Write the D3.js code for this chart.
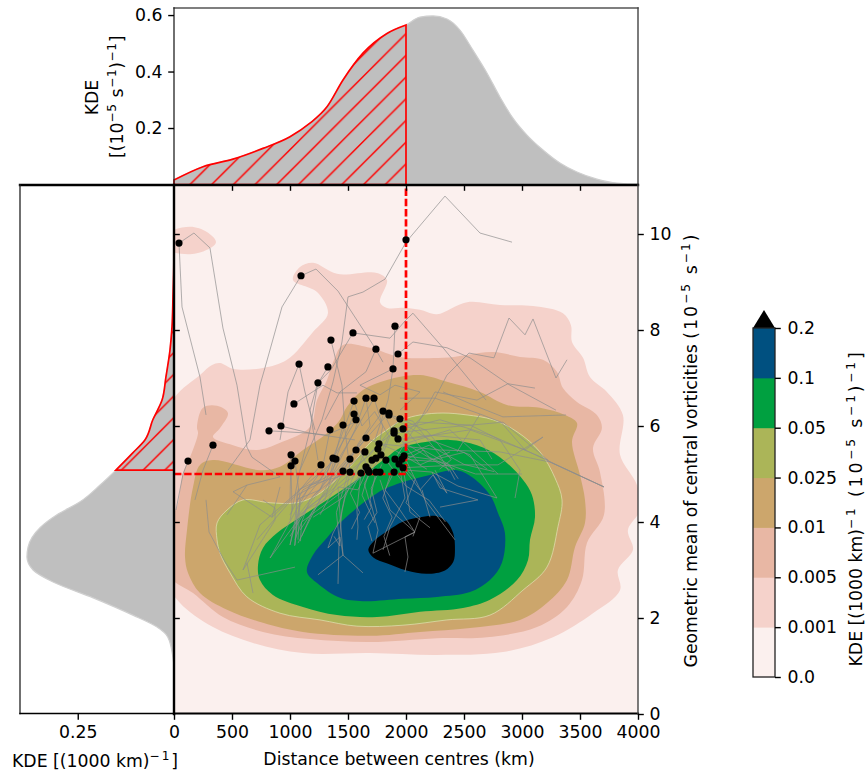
<!DOCTYPE html>
<html><head><meta charset="utf-8">
<style>html,body{margin:0;padding:0;background:#fff}svg{display:block}text{font-family:"DejaVu Sans";fill:#000}</style>
<script src="https://cdn.jsdelivr.net/npm/d3@7"></script></head><body>
<svg id="c" width="866" height="772"></svg>
<script>
// ---------- values ----------
const xTicks=[0,500,1000,1500,2000,2500,3000,3500,4000];
const yTicks=[0,2,4,6,8,10];
const topTicks=[0.2,0.4,0.6];
const leftTicks=[0,0.25];
const cbLabels=["0.0","0.001","0.005","0.01","0.025","0.05","0.1","0.2"];
const bandColours=["#fbf0ee","#f5d2cb","#e8b7a4","#cca66c","#abb558","#00a040","#005080","#000000"];
const refX=[0,2000,2000], refY=[5,5,11];
const topKm=[0,250,509,767,1000,1172,1319,1457,1629,1836,2000,2121,2233,2353,2465,2577,2698,2810,2922,3043,3181,3327,3474,3646,3819,3991,4000];
const topDen=[.016,.063,.09,.128,.169,.217,.275,.37,.465,.535,.565,.593,.597,.586,.547,.476,.395,.31,.235,.175,.122,.076,.044,.019,.005,.002,.002];
const leftVort=[1.0,1.19,1.6,1.81,2.06,2.42,2.75,3.0,3.27,3.48,3.88,4.15,4.42,4.77,5.08,5.44,5.71,6.13,6.54,7.02,7.58,8.06,8.69,9.4,9.88,11];
const leftDen=[0,.003,.016,.044,.107,.21,.314,.366,.382,.379,.348,.304,.244,.192,.151,.107,.0755,.055,.031,.021,.0104,.0052,.0026,.0005,.0003,0];
const contourIsland=[[-40,10.02],[138,10.15],[284,10.04],[362,9.83],[284,9.67],[138,9.58],[-40,9.67]];
const contour001=[[-40,6.4],[224,7.06],[328,7.27],[397,7.31],[509,7.19],[767,7.21],[974,7.38],[1198,7.96],[1327,8.35],[1233,8.79],[1026,9.04],[1086,9.31],[1198,9.4],[1405,9.17],[1750,9.19],[1836,9.04],[1776,8.58],[1836,8.46],[2000,8.46],[2121,8.42],[2267,8.33],[2526,8.58],[2810,8.52],[3095,8.5],[3353,8.35],[3422,8.1],[3431,7.75],[3526,7.42],[3586,7.02],[3732,6.71],[3870,6.23],[3845,5.4],[3991,4.77],[4017,4.25],[3913,3.83],[3957,3.42],[3827,3.0],[3845,2.58],[3612,2.1],[3267,1.6],[2836,1.29],[2267,1.23],[1690,1.27],[1112,1.27],[681,1.48],[336,1.81],[52,2.31],[-40,2.7]];
const contour005=[[-40,4.04],[26,4.31],[78,5.02],[138,5.35],[207,5.85],[198,5.98],[250,6.38],[371,6.42],[465,6.27],[397,5.96],[336,5.77],[509,5.6],[715,5.5],[914,5.65],[1172,5.98],[1233,6.54],[1319,6.96],[1371,7.33],[1457,7.69],[1690,7.63],[1948,7.44],[2319,7.42],[2526,7.48],[2750,7.54],[2983,7.44],[3181,7.38],[3301,7.13],[3353,6.79],[3474,6.5],[3646,6.23],[3689,5.96],[3612,5.54],[3672,5.04],[3707,4.15],[3560,3.56],[3517,2.79],[3388,2.23],[3129,1.81],[2698,1.6],[2267,1.58],[1690,1.5],[1172,1.56],[767,1.71],[422,2.02],[164,2.52],[-40,2.88]];
const contour01=[[336,5.29],[224,5.19],[164,4.73],[112,3.83],[95,3.27],[121,2.94],[224,2.52],[457,2.17],[767,1.9],[1112,1.71],[1690,1.63],[2121,1.71],[2552,1.79],[2983,1.96],[3215,2.31],[3388,2.79],[3457,3.48],[3543,3.98],[3543,4.46],[3500,4.98],[3431,5.67],[3474,6.06],[3370,6.23],[3155,6.38],[2870,6.44],[2638,6.71],[2353,6.92],[2121,7.06],[1836,6.96],[1629,6.75],[1491,6.4],[1431,6.13],[1319,5.85],[1112,5.5],[914,5.15],[741,5.08]];
const contour025=[[2121,6.23],[1974,6.13],[1836,5.92],[1690,5.65],[1517,5.15],[1345,4.77],[1233,4.56],[1060,4.4],[828,4.4],[595,4.46],[457,4.25],[371,3.98],[371,3.63],[397,3.35],[483,2.94],[629,2.44],[914,2.1],[1259,1.96],[1577,1.83],[1974,1.85],[2353,1.96],[2724,2.06],[3008,2.58],[3215,3.06],[3310,3.9],[3345,4.46],[3284,4.92],[3155,5.46],[2957,5.88],[2750,6.13],[2526,6.23],[2319,6.27]];
const contour05=[[724,3.1],[741,2.79],[853,2.48],[1112,2.23],[1405,2.06],[1750,2.02],[2121,2.13],[2491,2.21],[2724,2.38],[2957,2.79],[3052,3.21],[3069,3.63],[3112,4.1],[3086,4.56],[3008,4.88],[2810,5.35],[2612,5.6],[2379,5.71],[2181,5.67],[1948,5.54],[1836,5.35],[1577,4.88],[1345,4.5],[1086,4.1],[888,3.77],[767,3.46]];
const contour1=[[1146,2.96],[1233,2.73],[1431,2.42],[1629,2.35],[1974,2.4],[2267,2.44],[2552,2.54],[2724,2.79],[2827,3.15],[2853,3.77],[2793,4.19],[2724,4.56],[2577,4.92],[2440,5.08],[2207,4.98],[1948,4.81],[1750,4.6],[1457,4.04],[1319,3.67],[1198,3.31]];
const contour2=[[1675,3.42],[1718,3.59],[1833,3.8],[1977,4.01],[2149,4.11],[2264,4.12],[2350,4.01],[2408,3.76],[2422,3.42],[2408,3.17],[2336,2.99],[2178,2.92],[2005,2.99],[1833,3.14],[1718,3.26]];
const dotKm=[43,2000,1095,1905,1543,1353,1741,1931,1888,1327,1078,1241,1034,819,922,336,121,1009,1043,1009,1267,1345,1457,1552,1655,1724,1552,1569,1802,1853,1853,1948,1974,1897,1897,1931,1655,1767,1758,1569,1646,1784,1741,1707,1827,1371,1396,1517,1905,1983,1965,1940,1974,1655,1672,1457,1517,1612,1681,1741,1776,1897];
const dotVort=[9.81,9.88,9.13,8.08,7.94,7.79,7.6,7.5,7.19,7.23,7.29,6.9,6.46,5.9,6,5.6,5.27,5.4,5.27,5.17,5.19,5.92,6.02,6.52,6.58,6.58,6.25,6.13,6.31,6.27,6.23,6.15,5.94,5.9,5.85,5.73,5.75,5.63,5.52,5.5,5.46,5.4,5.33,5.29,5.29,5.33,5.31,5.31,5.31,5.38,5.31,5.21,5.13,5.15,5.08,5.06,5.04,5.02,5.04,5.04,5.04,5.04];
const tracks=[
[[276,6.23],[224,7.02],[69,8.48],[43,9.81],[172,10.02],[310,9.71],[422,8.04],[543,6.85],[629,5.56],[672,5.35],[914,4.94],[629,4.77],[509,4.63],[845,4.1],[914,4.73]],
[[629,4.77],[457,4.15]],
[[2914,9.83],[2638,10.02],[2336,10.79],[2000,9.83],[1819,9.06],[1629,8.79],[1500,8.69],[1448,7.75],[1371,6.92],[1276,6.13],[1086,5.08],[1000,4.04]],
[[1802,7.33],[1716,7.69],[1414,8.81],[1224,9.27],[1095,9.13],[931,8.48],[784,7.21],[741,6.85],[655,5.71],[466,5.08]],
[[1948,5.71],[2180,6.3],[2250,6.58],[2353,7.06],[2543,7.52],[2758,7.42],[2888,8.25],[3026,7.9],[3095,8.23],[3293,7],[3388,7.38]],
[[1543,7.94],[1862,7.83],[2000,8.21],[2060,8.35],[2319,7.63],[2690,6.54]],
[[1931,7.5],[2060,7.75],[2353,7.63],[2552,7.42],[2896,6.85],[3293,6.33]],
[[1905,5.31],[2121,6.13],[2250,6.71],[2612,6.54],[2879,6.88],[3112,6.79]],
[[1948,6.58],[2250,6.58],[2638,6.25],[2819,6.08],[3026,5.5],[3181,5.77]],
[[2638,6.25],[2440,5.46]],
[[2319,6.71],[2577,6.44],[2836,6.19],[3379,6.23]],
[[1897,5.85],[2293,5.96],[2836,6.08],[3241,5.25],[3707,4.73]],
[[1879,5.92],[2121,6.08],[2552,6.02],[2810,5.71],[2983,5.08],[2940,4.5]],
[[1905,5.71],[2207,5.81],[2638,5.71],[2741,5.31]],
[[1948,5.6],[2379,5.92],[2793,5]],
[[1974,5.94],[2293,6.13],[2724,5.81],[3224,5.29]],
[[1974,5.71],[2552,5.92],[3026,5.5],[3707,4.73]],
[[1767,5.63],[2293,5.5],[2810,5.46],[3241,5.25],[3707,4.73]],
[[1853,6.23],[2207,5.71],[2552,5.4],[2784,4.5]],
[[1931,5.73],[2379,5.08],[2422,4.88]],
[[1897,5.9],[2121,5.19],[2379,5.46]],
[[1974,5.13],[2465,5.19],[2793,5.19],[3181,5.77]],
[[2008,5.08],[2224,5.04],[2293,4.71],[2620,4.46],[2293,4.31]],
[[2250,5.08],[2353,4.6]],
[[2224,5.04],[2448,4.75],[2784,4.5]],
[[1646,5.46],[1534,4.88],[1474,4.5],[1431,4.04],[1371,3.77],[1327,3.46],[1431,3.69],[1457,3.31],[1241,2.9]],
[[1707,5.29],[1586,4.67],[1414,4.73],[1457,3.31],[1629,2.94]],
[[1517,5.04],[1448,4.25],[1422,3.52],[1414,2.71]],
[[1612,5.02],[1577,4.25],[1586,3.9],[1577,3.63]],
[[1681,5.04],[1621,4.56],[1733,3.98]],
[[1741,5.04],[1690,4.46],[1759,3.83],[1715,3.35],[2077,3.79],[1862,4.25],[1776,4.88]],
[[1897,5.04],[1819,4.67],[1948,4.25],[2077,3.79],[1991,3.69],[2017,3.27],[1991,2.96]],
[[1940,5.21],[1991,4.5],[1862,3.9],[1802,3.42]],
[[1974,5.13],[2121,4.67],[2233,4.98],[2353,4.6]],
[[1983,5.38],[2164,4.46],[2422,3.63]],
[[1965,5.31],[2034,4.21],[2207,3.88]],
[[2138,4.67],[2207,4.1]],
[[1552,6.52],[1431,5.71],[1327,5.08],[1086,4.35],[1000,3.52]],
[[1655,6.58],[1560,5.92],[1345,4.88],[1069,3.56]],
[[1724,6.58],[1517,5.71],[1259,4.67],[828,3.25]],
[[1552,6.25],[1388,5.29],[1086,4.67],[715,3.63]],
[[1569,6.13],[1259,4.88],[1069,4.67],[1043,4.04],[1000,3.52]],
[[1802,6.31],[1560,5.5],[1172,4.46],[1043,3.63]],
[[1853,6.27],[1646,5.71],[1388,4.98],[1060,4.56],[1052,3.83]],
[[1948,6.15],[1690,5.4],[1474,4.98],[1172,4.77],[828,3.25]],
[[1345,5.92],[1276,5.08],[1086,4.46],[1069,3.63]],
[[1457,6.02],[1345,4.98],[1112,4.67],[1000,4.15]],
[[1655,5.75],[1431,5.08],[1086,3.83]],
[[1569,5.5],[1345,4.67],[1086,4.15]],
[[1371,5.33],[1259,4.67],[1052,4.46]],
[[1396,5.31],[1302,4.46],[1129,4.25]],
[[1517,5.31],[1259,4.15]],
[[1009,5.4],[1000,4.46],[845,4.1]],
[[1043,5.27],[1086,4.46],[1043,3.52]],
[[1009,5.17],[1017,4.25]],
[[1267,5.19],[1086,4.67],[741,3.94],[595,3]],
[[1043,3.06],[543,2.79],[440,3.17],[302,3.79],[276,4.46]],
[[629,3.15],[681,2.52]],
[[595,3],[871,4.04],[871,4.29],[767,4.46]],
[[1905,8.08],[1888,7.19],[1845,6.54],[1733,5.71]],
[[1543,7.94],[1353,7.17],[1241,6.9],[1172,5.92],[1086,5.08]],
[[1353,7.79],[1448,6.85],[1474,5.92],[1517,5.08]],
[[1327,7.23],[1233,6.85],[1172,6.33],[1241,5.29]],
[[1078,7.29],[983,6.71],[914,5.71]],
[[1078,7.29],[1129,6.71],[1215,5.92]],
[[1888,7.19],[1603,6.85],[1776,6.65],[1905,6.85],[2121,6.71],[1948,6.33]],
[[1741,7.6],[1655,7.13],[1431,6.71],[1302,6.13]],
[[819,5.9],[1172,5.85],[1319,5.81],[1603,6.13]],
[[922,6],[1172,5.85],[1560,5.71]],
[[1034,6.46],[1284,6.85],[1405,6.69],[1577,6.69]],
[[121,5.27],[78,5],[17,4.25]],
[[336,5.6],[250,5.08],[181,4.46]],
[[1791,5.2],[1700,4.7],[1750,4.2],[1672,3.9],[1707,3.6]],
[[1880,5.1],[1800,4.5],[1880,4.1],[1810,3.7],[1860,3.3]],
[[1650,5.2],[1520,4.6],[1600,4.2],[1530,3.85]],
[[1760,5.3],[1640,4.8],[1700,4.3],[1640,4.05]],
[[1920,5.3],[2080,4.9],[2000,4.4],[2120,4.1],[2060,3.7]],
[[1827,5.29],[2000,4.75],[2200,4.45],[2340,4]],
[[1500,5],[1400,4.2],[1430,3.5],[1380,3.7]],
[[1612,5.02],[1450,4.5],[1200,4.1]],
[[1707,5.29],[1520,4.9],[1300,4.5],[1190,4.2],[1100,3.7]],
[[1784,5.4],[1600,4.9],[1350,4.45],[1100,4],[1090,3.6]],
[[1767,5.63],[1560,5.1],[1330,4.6],[1150,4.3],[1000,3.7]],
[[1646,5.46],[1440,5],[1220,4.6],[1060,4.1],[1040,3.5]],
[[1905,5.31],[2200,5.6],[2500,5.2],[2760,5.05]],
[[1983,5.38],[2240,5.3],[2500,5.45],[2700,5.1]],
[[1965,5.31],[2300,5.25],[2600,5],[3000,5]],
[[1940,5.21],[2150,5.5],[2370,5.2],[2450,4.9]],
[[1853,6.23],[2060,6.1],[2290,5.4],[2370,5.05]],
[[1948,6.15],[2180,5.9],[2390,5.3],[2290,5.1]],
[[1767,5.63],[1970,6],[2200,5.35],[2420,5.1]],
[[1655,5.75],[1900,5.5],[2180,5.1]],
[[1552,6.52],[1620,6],[1730,6.3],[1850,5.8],[1780,5.4]],
[[1655,6.58],[1690,6],[1580,5.6],[1660,5.2]],
[[1724,6.58],[1800,6],[1760,5.5],[1860,5.2]],
[[1802,6.31],[1880,5.9],[1780,5.3]]
];
// ---------- scales ----------
const x=d3.scaleLinear().domain([0,4000]).range([174,638]);
const y=d3.scaleLinear().domain([0,11]).range([714,186]);
const yTop=d3.scaleLinear().domain([0,.625]).range([184.5,8]);
const xLeft=d3.scaleLinear().domain([0,.4]).range([174,20]);
const cb=d3.scalePoint().domain(cbLabels).range([677,328]);
const svg=d3.select("#c");
const defs=svg.append("defs");
const FS=17.3;
defs.append("clipPath").attr("id","plot").append("rect").attr("x",174).attr("y",185).attr("width",464).attr("height",529);
const pat=defs.append("pattern").attr("id","hatch").attr("patternUnits","userSpaceOnUse").attr("width",21.7).attr("height",21.7);
pat.append("path").attr("d","M-1 6.7L6.7 -1M4.7 22.7L22.7 4.7").attr("stroke","red").attr("stroke-width",1.5).attr("fill","none");
// ---------- main plot ----------
const plot=svg.append("g").attr("clip-path","url(#plot)");
plot.append("rect").attr("x",x(0)).attr("y",y(11)-1).attr("width",x(4000)-x(0)).attr("height",y(0)-y(11)+1).attr("fill",bandColours[0]);
const closed=d3.line().x(d=>x(d[0])).y(d=>y(d[1])).curve(d3.curveCatmullRomClosed.alpha(.5));
[[contourIsland,1],[contour001,1],[contour005,2],[contour01,3],[contour025,4],[contour05,5],[contour1,6],[contour2,7]].forEach(([c,i])=>{
  const p=plot.append("path").attr("d",closed(c)).attr("fill",bandColours[i]);
  if(i===4)p.attr("stroke","#e2e2b4").attr("stroke-width",.7);
});
const ln=d3.line().x(d=>x(d[0])).y(d=>y(d[1]));
plot.append("g").selectAll("path").data(tracks).join("path").attr("d",ln).attr("fill","none").attr("stroke","#8c8c8c").attr("stroke-opacity",.72).attr("stroke-width",.95).attr("stroke-linejoin","round");
plot.append("path").attr("d",ln(refX.map((v,i)=>[v,refY[i]]))).attr("fill","none").attr("stroke","red").attr("stroke-width",2.7).attr("stroke-dasharray","7.4 2.8");
plot.append("g").selectAll("circle").data(dotKm).join("circle").attr("cx",d=>x(d)).attr("cy",(d,i)=>y(dotVort[i])).attr("r",3.6).attr("fill","#000");
// ---------- top KDE ----------
const topData=topKm.map((k,i)=>[k,topDen[i]]);
const topArea=d3.area().x(d=>x(d[0])).y0(yTop(0)).y1(d=>yTop(d[1])).curve(d3.curveMonotoneX);
svg.append("path").attr("d",topArea(topData)).attr("fill","#bfbfbf").attr("stroke","#cfcfcf").attr("stroke-width",1.2);
const topRed=topData.filter(d=>d[0]<=refX[1]);
svg.append("path").attr("d",topArea(topRed)).attr("fill","url(#hatch)").attr("stroke","red").attr("stroke-width",1.7);
// ---------- left KDE ----------
const leftData=leftVort.map((v,i)=>[v,leftDen[i]]);
const leftArea=d3.area().y(d=>y(d[0])).x0(xLeft(0)).x1(d=>xLeft(d[1])).curve(d3.curveMonotoneY);
svg.append("path").attr("d",leftArea(leftData)).attr("fill","#bfbfbf").attr("stroke","#cfcfcf").attr("stroke-width",1.2);
const leftRed=leftData.filter(d=>d[0]>=5.08);
svg.append("path").attr("d",leftArea(leftRed)).attr("fill","url(#hatch)").attr("stroke","red").attr("stroke-width",1.7);
// ---------- spines ----------
function spine(x1,y1,x2,y2,w,c){svg.append("line").attr("x1",x1).attr("y1",y1).attr("x2",x2).attr("y2",y2).attr("stroke",c||"#000").attr("stroke-width",w).attr("stroke-linecap","square");}
spine(174,8,638,8,1.3,"#555");
spine(174,8,174,185,1.3,"#222");
spine(638,8,638,185,1.4,"#444");
spine(20,185,638,185,2.4);
spine(174,185,174,714,2.4);
spine(20,185,20,713.5,1.3,"#222");
spine(20,713.5,174,713.5,1.4);
spine(174,713.5,638,713.5,2.2);
spine(638,185,638,714,1.4,"#444");
// ---------- axes ----------
const TL=5.8,TP=5.8;
function style(g){g.select(".domain").remove();g.selectAll("line").attr("stroke","#000").attr("stroke-width",1.4);g.selectAll("text").attr("font-size",FS).attr("fill","#000");}
svg.append("g").attr("transform","translate(0,714)").call(d3.axisBottom(x).tickValues(xTicks).tickFormat(d3.format("d")).tickSize(TL).tickPadding(TP)).call(style);
svg.append("g").attr("transform","translate(638,0)").call(d3.axisRight(y).tickValues(yTicks).tickFormat(d3.format("d")).tickSize(TL).tickPadding(TP)).call(style);
svg.append("g").attr("transform","translate(174,0)").call(d3.axisLeft(yTop).tickValues(topTicks).tickFormat(d3.format(".1f")).tickSize(TL).tickPadding(TP)).call(style);
svg.append("g").attr("transform","translate(0,714)").call(d3.axisBottom(xLeft).tickValues(leftTicks.slice(1)).tickFormat(d3.format(".2f")).tickSize(TL).tickPadding(TP)).call(style);
svg.append("g").attr("transform","translate(174,0)").call(d3.axisRight(y).tickValues(yTicks.slice(1)).tickFormat("").tickSize(TL)).call(style);
svg.append("g").attr("transform","translate(0,185)").call(d3.axisBottom(x).tickValues(xTicks.slice(1,8)).tickFormat("").tickSize(TL)).call(style);
// ---------- colourbar ----------
const cbg=svg.append("g");
cbLabels.slice(0,-1).forEach((l,i)=>{
  cbg.append("rect").attr("x",753).attr("width",22).attr("y",cb(cbLabels[i+1])).attr("height",cb(l)-cb(cbLabels[i+1])+.5).attr("fill",bandColours[i]);
});
cbg.append("path").attr("d",d3.line()([[753,cb("0.2")],[764,cb("0.2")-18],[775,cb("0.2")]])).attr("fill","#000");
cbg.append("rect").attr("x",753).attr("width",22).attr("y",cb("0.2")).attr("height",cb("0.0")-cb("0.2")).attr("fill","none").attr("stroke","#222").attr("stroke-width",1.3);
cbg.append("g").attr("transform","translate(775,0)").call(d3.axisRight(cb).tickSize(TL).tickPadding(TP+1)).call(style);
// ---------- titles ----------
// parts after the first are the mathematical ones, which the picture sets wider; target is the text's length
function label(px,py,rot,parts,target){
  const t=svg.append("text").attr("transform",`translate(${px},${py}) rotate(${rot})`).attr("text-anchor","middle").attr("font-size",FS);
  let shift=0;const math=[];
  parts.forEach(([s,sup],i)=>{
    const dy=sup?-FS*.38:0;
    const ts=t.append("tspan").text(s).attr("dy",dy-shift);
    if(sup)ts.attr("font-size",FS*.7);
    if(i>0)math.push([ts,s.length]);
    shift=dy;
  });
  if(target){
    const extra=target-t.node().getComputedTextLength();
    const n=d3.sum(math,m=>m[1]);
    if(extra>0)math.forEach(m=>m[0].attr("letter-spacing",extra/n));
  }
}
const sup=s=>[s,true], nor=s=>[s,false];
label(399,765,0,[nor("Distance between centres (km)")]);
label(96,767,0,[nor("KDE [(1000 km)"),sup("\u22121"),nor("]")],168);
label(98,97.5,-90,[nor("KDE")]);
label(123,96.5,-90,[nor("[(10"),sup("\u22125"),nor(" s"),sup("\u22121"),nor(")"),sup("\u22121"),nor("]")],123);
label(697,450,-90,[nor("Geometric mean of central vorticities "),nor("(10"),sup("\u22125"),nor(" s"),sup("\u22121"),nor(")")],435);
label(862,508,-90,[nor("KDE [(1000 km)"),sup("\u22121"),nor(" (10"),sup("\u22125"),nor(" s"),sup("\u22121"),nor(")"),sup("\u22121"),nor("]")],317);
</script></body></html>
